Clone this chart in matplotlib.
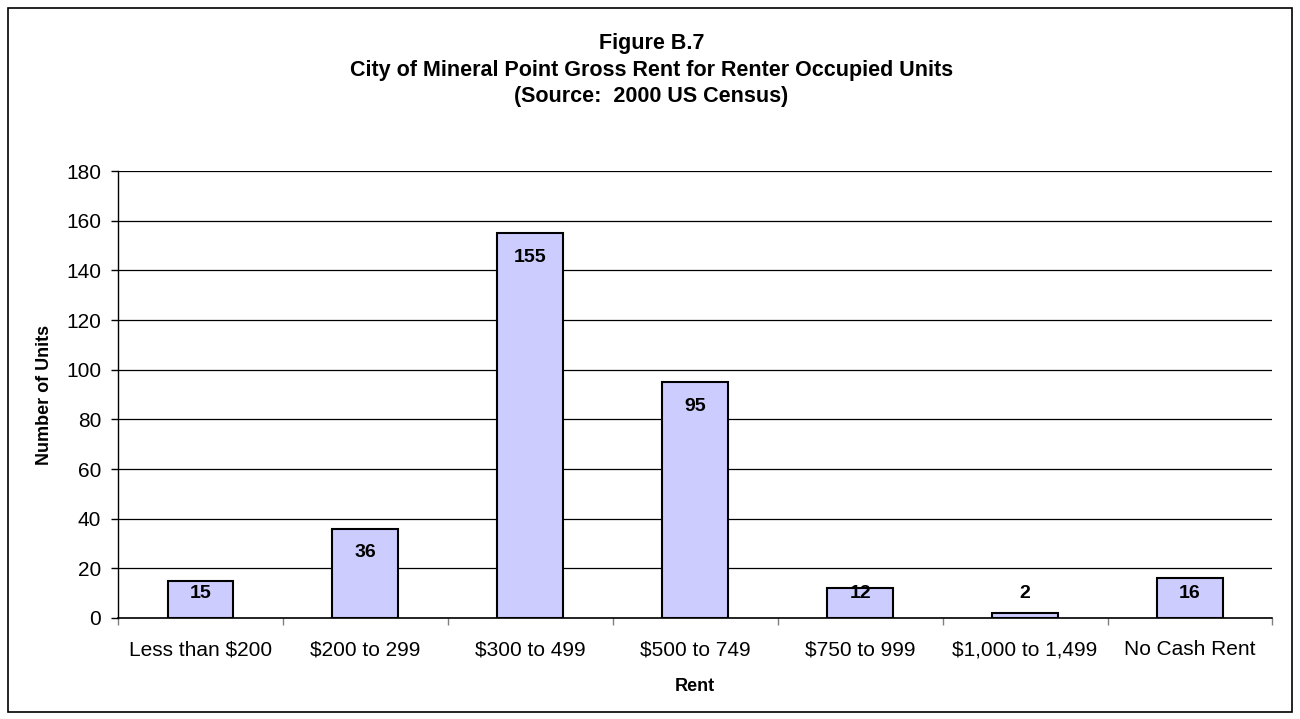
import numpy as np
import matplotlib
matplotlib.use("Agg")
import matplotlib.pyplot as plt
from matplotlib.patches import Rectangle

plt.rcParams['font.family'] = ['Liberation Sans', 'DejaVu Sans']

# data
categories = ['Less than $200', '$200 to 299', '$300 to 499', '$500 to 749',
              '$750 to 999', '$1,000 to 1,499', 'No Cash Rent']
units = [15, 36, 155, 95, 12, 2, 16]
yticks = list(range(0, 181, 20))

fig = plt.figure(figsize=(13, 7.19), dpi=100)
ax = fig.add_axes([0.0908, 0.1405, 0.888, 0.6215])

x = np.arange(len(categories))
ax.bar(x, units, width=0.4, color='#ccccff', edgecolor='black', linewidth=1.5, zorder=3)

# labels sit inside the top of each bar, clamped near the bottom for short bars
for xi, v in zip(x, units):
    ax.text(xi, max(v - 9.7, 9.7), str(v), ha='center', va='center',
            fontsize=14, fontweight='bold', zorder=4)

ax.set_xlim(-0.5, len(categories) - 0.5)
ax.set_ylim(0, 180)
ax.set_yticks(yticks)
ax.tick_params(axis='y', labelsize=15, length=5, width=1, pad=7)
ax.yaxis.grid(True, color='black', linewidth=0.9, zorder=0)

ax.set_xticks(x)
ax.set_xticklabels(categories, fontsize=15)
ax.set_xticks(np.arange(-0.5, len(categories)), minor=True)
ax.tick_params(axis='x', which='major', length=0, pad=16)
ax.tick_params(axis='x', which='minor', length=5, width=1, color='gray')

for s in ['top', 'right']:
    ax.spines[s].set_visible(False)
ax.spines['left'].set_linewidth(1)
ax.spines['bottom'].set_linewidth(1.2)

ax.set_ylabel('Number of Units', fontsize=13, fontweight='bold')
ax.set_xlabel('Rent', fontsize=13, fontweight='bold')
ax.yaxis.set_label_coords(-0.0563, 0.5)
ax.xaxis.set_label_coords(0.5, -0.134)

fig.text(0.501, 0.9026, 'Figure B.7\nCity of Mineral Point Gross Rent for Renter Occupied Units\n(Source:  2000 US Census)',
         ha='center', va='center', fontsize=15.5, fontweight='bold', linespacing=1.35)

# outer chart border
fig.patches.append(Rectangle((0.006, 0.01), 0.988, 0.979, transform=fig.transFigure,
                             fill=False, edgecolor='black', linewidth=1.2))

fig.savefig('out.png', dpi=100)
